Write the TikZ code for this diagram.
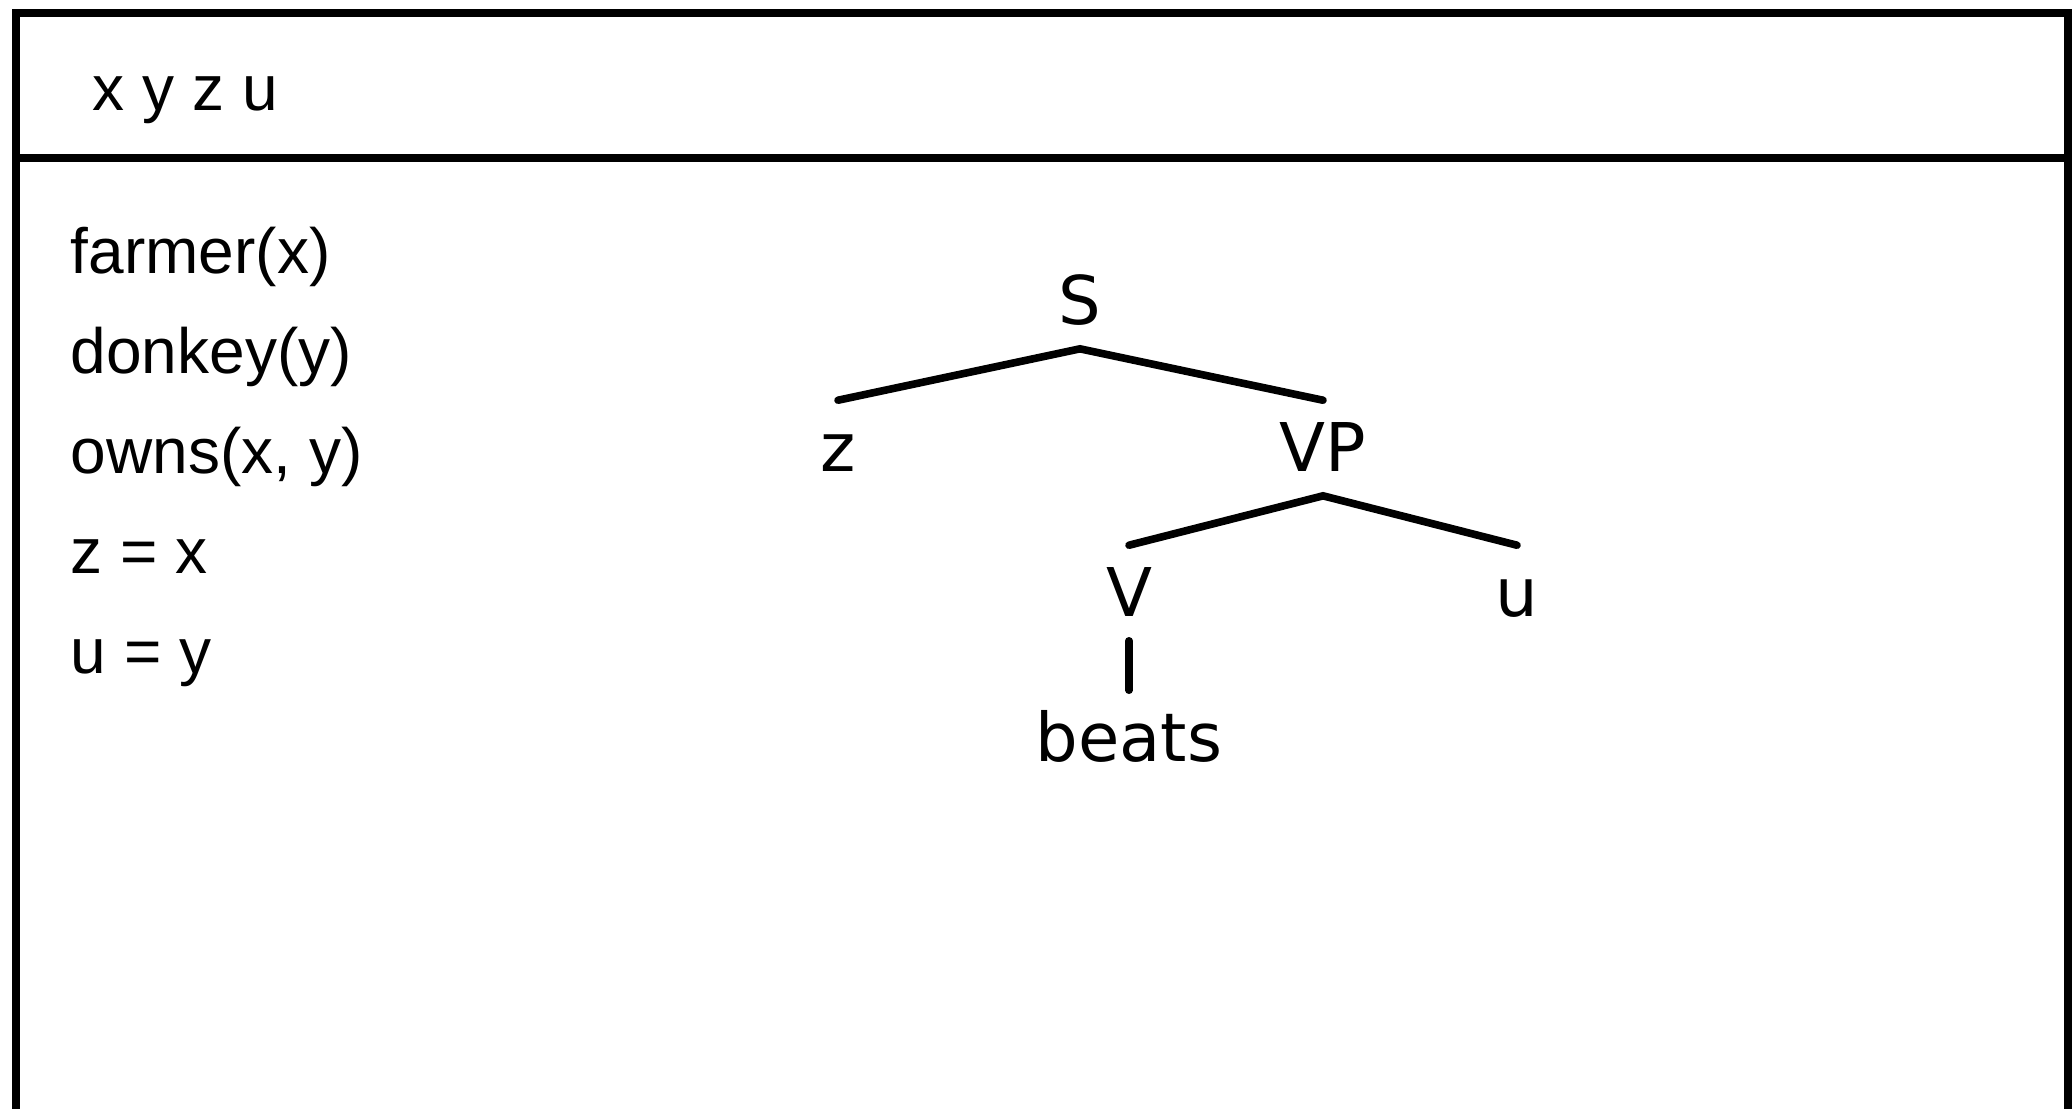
\documentclass[tikz,border=0pt]{standalone}
\usepackage{fontspec}
\setmainfont{Liberation Sans}
\newfontfamily\dejavu{DejaVu Sans}
\begin{document}
\begin{tikzpicture}[x=0.25pt,y=-0.25pt,
  frame/.style={line width=1.8pt},
  cond/.style={anchor=base west,inner sep=0pt,font=\fontsize{16}{19}\selectfont},
  tnode/.style={anchor=base,inner sep=0pt,text height=17.5pt,text depth=6pt,font=\dejavu\fontsize{16.8}{20}\selectfont},
  edge/.style={line width=1.9pt,line cap=round}]
\useasboundingbox (0,0) rectangle (2072,1108);
% frame
\coordinate (bl) at (16,1130);
\coordinate (tl) at (16,13);
\coordinate (tr) at (2068,13);
\coordinate (br) at (2068,1130);
\coordinate (dl) at (16,158);
\coordinate (dr) at (2068,158);
\draw[frame,line join=miter] (bl) -- (tl) -- (tr) -- (br);
\draw[frame] (dl) -- (dr);
% universe
\node[cond] (univ) at (92,110) {x y z u};
% conditions
\node[cond] (c1) at (70,273) {farmer(x)};
\node[cond] (c2) at (70,373) {donkey(y)};
\node[cond] (c3) at (70,473) {owns(x, y)};
\node[cond] (c4) at (70,573) {z = x};
\node[cond] (c5) at (70,673) {u = y};
% tree
\node[tnode] (S) at (1080,324) {S};
\node[tnode] (z) at (838,471) {z};
\node[tnode] (VP) at (1323,471) {VP};
\node[tnode] (V) at (1129,616) {V};
\node[tnode] (u) at (1517,616) {u};
\node[tnode] (beats) at (1129,761) {beats};
\draw[edge] (z.north) -- (S.south) -- (VP.north);
\draw[edge] (V.north) -- (VP.south) -- (u.north);
\draw[edge] (V.south) -- (beats.north);
\end{tikzpicture}
\end{document}
